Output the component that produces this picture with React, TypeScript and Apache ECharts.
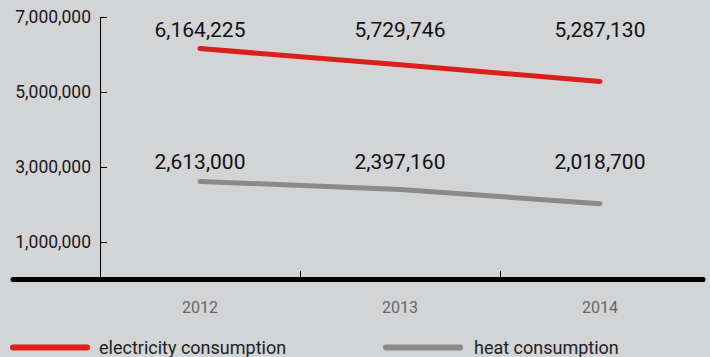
import React, { useEffect, useRef } from "react";
import * as echarts from "echarts";

const years = [2012, 2013, 2014];
const electricity = [6164225, 5729746, 5287130];
const heat = [2613000, 2397160, 2018700];
const yTickValues = [1000000, 3000000, 5000000, 7000000];
const xTickValues = [2012.5, 2013.5];
const seriesNames = ["electricity consumption", "heat consumption"];

const FONT = "Roboto, 'Liberation Sans', Arial, sans-serif";
const RED = "#d9201a";
const GRAY = "#8a8a88";
const pill = "path://M3,0 L77,0 A3,3 0 0 1 77,6 L3,6 A3,3 0 0 1 3,0 Z";

const fmt = (v: number) => v.toLocaleString("en-US");

export default function App() {
  const ref = useRef<HTMLDivElement>(null);
  useEffect(() => {
    if (!ref.current) return;
    const chart = echarts.init(ref.current, null, { renderer: "svg" });
    const mk = (name: string, vals: number[], color: string, offsets?: number[]) => ({
      name,
      type: "line",
      xAxisIndex: 0,
      yAxisIndex: 0,
      data: years.map((y, i) => ({
        value: [y, vals[i]],
        label: { offset: [0, offsets ? offsets[i] : 0] },
      })),
      symbol: "circle",
      symbolSize: 1,
      showSymbol: true,
      itemStyle: { color },
      lineStyle: { color, width: 5, cap: "round", join: "round" },
      label: {
        show: true,
        position: "top",
        distance: 8,
        color: "#111",
        fontSize: 21,
        fontFamily: FONT,
        formatter: (p: any) => fmt(p.value[1]),
      },
      z: 5,
    });
    const legendBase = {
      top: 338.5,
      padding: 0,
      itemWidth: 80,
      itemHeight: 6,
      icon: pill,
    };
    chart.setOption({
      animation: false,
      backgroundColor: "#d3d4d6",
      grid: [
        { left: 100, right: 10, top: 17.3, bottom: 77.8 },
        { left: 13, right: 7, top: 17.3, bottom: 77.8 },
      ],
      xAxis: [
        {
          type: "value",
          gridIndex: 0,
          min: 2011.5,
          max: 2014.5,
          z: 4,
          axisLine: { show: false },
          splitLine: { show: false },
          axisTick: {
            show: true,
            inside: true,
            length: 8,
            customValues: xTickValues,
            lineStyle: { color: "#000", width: 1 },
          },
          axisLabel: {
            customValues: years,
            margin: 20,
            color: "#666",
            fontSize: 16,
            fontFamily: FONT,
            formatter: (v: number) => String(v),
          },
        },
        {
          type: "value",
          gridIndex: 1,
          min: 0,
          max: 1,
          z: 1,
          axisLine: { show: true, lineStyle: { color: "#000", width: 5 } },
          axisTick: { show: false },
          axisLabel: { show: false },
          splitLine: { show: false },
        },
      ],
      yAxis: [
        {
          type: "value",
          gridIndex: 0,
          min: 0,
          max: 7000000,
          z: 4,
          axisLine: { show: true, lineStyle: { color: "#000", width: 1 } },
          splitLine: { show: false },
          axisTick: {
            show: true,
            inside: true,
            length: 7,
            customValues: yTickValues,
            lineStyle: { color: "#000", width: 1 },
          },
          axisLabel: {
            customValues: yTickValues,
            margin: 9,
            color: "#1a1a1a",
            fontSize: 17.5,
            fontFamily: FONT,
            formatter: (v: number) => fmt(v),
          },
        },
        {
          type: "value",
          gridIndex: 1,
          show: false,
        },
      ],
      legend: [
        {
          ...legendBase,
          data: [seriesNames[0]],
          left: 10,
          textStyle: { color: "#222", fontSize: 18, fontFamily: FONT, padding: [0, 0, 0, 4] },
        },
        {
          ...legendBase,
          data: [seriesNames[1]],
          left: 383,
          textStyle: { color: "#222", fontSize: 18, fontFamily: FONT, padding: [0, 0, 0, 6] },
        },
      ],
      series: [mk(seriesNames[0], electricity, RED), mk(seriesNames[1], heat, GRAY)],
    });
    // align each series' value labels on one row (the row of its first point)
    const rowOffsets = (vals: number[]) => {
      const ys = years.map(
        (y, i) => (chart.convertToPixel({ xAxisIndex: 0, yAxisIndex: 0 }, [y, vals[i]]) as number[])[1]
      );
      return ys.map((py) => ys[0] - py);
    };
    chart.setOption({
      series: [
        mk(seriesNames[0], electricity, RED, rowOffsets(electricity)),
        mk(seriesNames[1], heat, GRAY, rowOffsets(heat)),
      ],
    });
    return () => chart.dispose();
  }, []);
  return (
    <div
      ref={ref}
      style={{ position: "absolute", left: 0, top: 0, width: 710, height: 357 }}
    />
  );
}
